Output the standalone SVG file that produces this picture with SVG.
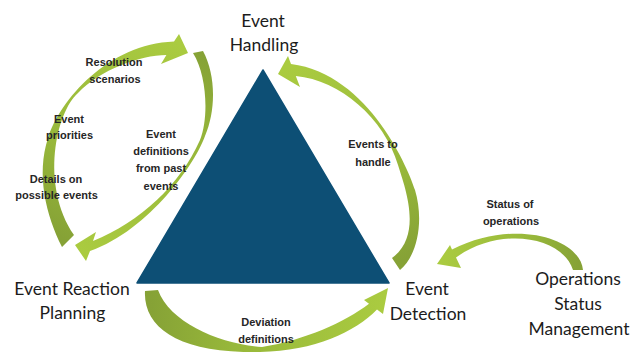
<svg xmlns="http://www.w3.org/2000/svg" width="643" height="352" viewBox="0 0 643 352">
  <style>
    .node { font-family: Lato, "Liberation Sans", Arial, sans-serif; font-size: 17.5px; fill: #1c1c1c; text-anchor: middle; }
    .lbl { font-family: "Liberation Sans", Arial, sans-serif; font-size: 11px; font-weight: bold; fill: #262626; text-anchor: middle; }
  </style>
  <defs>
    <linearGradient id="arc" gradientUnits="userSpaceOnUse">
      <stop offset="0" stop-color="#86a236"/>
      <stop offset="0.35" stop-color="#97b73a"/>
      <stop offset="1" stop-color="#aacb40"/>
    </linearGradient>
    <linearGradient id="g1" href="#arc" x1="68" y1="241" x2="180" y2="45"/>
    <linearGradient id="g2" href="#arc" x1="198" y1="52" x2="80" y2="250"/>
    <linearGradient id="g3" href="#arc" x1="396" y1="264" x2="285" y2="68"/>
    <linearGradient id="g4" href="#arc" x1="151" y1="291" x2="385" y2="295"/>
    <linearGradient id="g5" href="#arc" x1="578" y1="270" x2="442" y2="262"/>
  </defs>

  <rect width="643" height="352" fill="#ffffff"/>

  <!-- central triangle -->
  <g id="triangle">
    <polygon points="263,70 389,283 137,283" fill="#0d4f75" stroke="#0d4f75" stroke-width="1.5" stroke-linejoin="round"/>
  </g>

  <!-- curved arrows between the stages -->
  <g id="connectors">
    <path id="arc-planning-handling" fill="url(#g1)" d="M62,247 C46,215 36,175 48,138 C60,100 108,44 174,41.5 L179,34 L188,53 L161,64 L166.4,55 C140,55 100,70 78,93 C56,112 40,185 74,235 Z"/>
    <path id="arc-handling-planning" fill="url(#g2)" d="M203,51 C216,75 216,110 205,136 C196,162 150,230 90,251 L86,261 L75,245 L96,232 L93,241 C140,222 180,185 200,140 C209,118 207,75 193,53 Z"/>
    <path id="arc-detection-handling" fill="url(#g3)" d="M400,270 C418,255 424,220 415,190 C409.6,172 370,74 291,64 L288,56 L278,74 L300,87 L295.8,76 C340,80 384,118 398,165 C404,185 424,235 392,258 Z"/>
    <path id="arc-planning-detection" fill="url(#g4)" d="M145,291 C143,328 180,354 260,352 C315,351 355,332 377,309.6 L383,314 L388,288 L364,300 L369,303.7 C345,322 305,340 262,347 C220,344 170,323 158,290 Z"/>
    <path id="arc-status-detection" fill="url(#g5)" d="M583,270 C580,238 515,218 452,249.5 L450,245 L437,264 L461,268 L456,257.5 C500,226 562,236 573,270 Z"/>

    <g id="connector-labels">
      <text class="lbl" x="114" y="66">Resolution</text>
      <text class="lbl" x="115" y="83">scenarios</text>
      <text class="lbl" x="69" y="123">Event</text>
      <text class="lbl" x="69.5" y="139">priorities</text>
      <text class="lbl" x="56" y="183">Details on</text>
      <text class="lbl" x="56.5" y="199">possible events</text>
      <text class="lbl" x="161" y="138">Event</text>
      <text class="lbl" x="161" y="155">definitions</text>
      <text class="lbl" x="161" y="172">from past</text>
      <text class="lbl" x="161" y="190">events</text>
      <text class="lbl" x="373" y="148">Events to</text>
      <text class="lbl" x="373" y="166">handle</text>
      <text class="lbl" x="510" y="208">Status of</text>
      <text class="lbl" x="511" y="225">operations</text>
      <text class="lbl" x="266" y="326">Deviation</text>
      <text class="lbl" x="266" y="343">definitions</text>
    </g>
  </g>

  <!-- stage names -->
  <g id="event-handling">
    <text class="node" x="263" y="27">Event</text>
    <text class="node" x="264" y="51">Handling</text>
  </g>
  <g id="event-reaction-planning">
    <text class="node" x="72" y="295">Event Reaction</text>
    <text class="node" x="72.5" y="319">Planning</text>
  </g>
  <g id="event-detection">
    <text class="node" x="427" y="295">Event</text>
    <text class="node" x="428" y="320">Detection</text>
  </g>
  <g id="operations-status-management">
    <text class="node" x="578" y="285">Operations</text>
    <text class="node" x="578" y="310">Status</text>
    <text class="node" x="579" y="335">Management</text>
  </g>
</svg>
